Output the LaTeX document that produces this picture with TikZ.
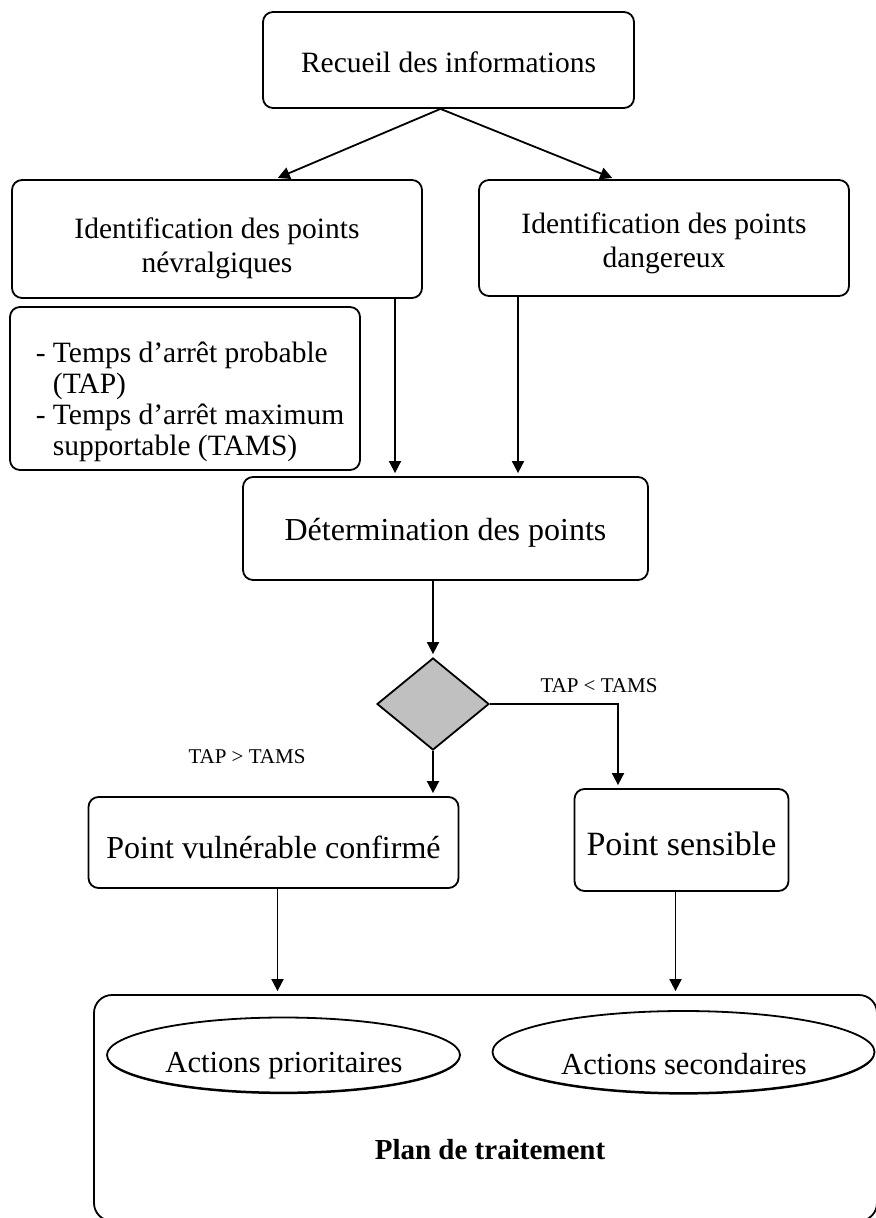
\documentclass[tikz,border=0pt]{standalone}
\usepackage{fontspec}
\setmainfont{Liberation Serif}
\usetikzlibrary{shapes.geometric,arrows.meta,shadows}
\definecolor{losange}{HTML}{C0C0C0}
\tikzset{
  box/.style={draw,line width=0.9pt,rounded corners=5pt,align=center,inner sep=0pt},
  oval/.style={draw,ellipse,line width=0.9pt,inner sep=0pt,fill=white,
    drop shadow={shadow xshift=0pt,shadow yshift=-0.8pt,opacity=1,fill=black}},
  flow/.style={line width=0.9pt,-{Triangle[length=6pt,width=6pt]},shorten >=1.5pt},
  cond/.style={font=\fontsize{10.5}{12}\selectfont}
}
\begin{document}
\begin{tikzpicture}[x=0.5pt,y=-0.5pt,font=\fontsize{14.75}{17}\selectfont]
\useasboundingbox (0,0) rectangle (876,1218);
\node[box,minimum width=185.5pt,minimum height=48pt] (recueil) at (448.5,60) {\rule{0pt}{13pt}Recueil des informations};
\node[box,minimum width=205pt,minimum height=59pt] (nevral) at (217,239) {\rule{0pt}{20pt}Identification des points\\névralgiques};
\node[box,minimum width=185pt,minimum height=58pt] (danger) at (664,238) {\rule{0pt}{16pt}Identification des points\\dangereux};
\node[box,minimum width=175pt,minimum height=81.5pt,align=left,font=\fontsize{14.75}{15.5}\selectfont] (tap) at (185,388.5)
  {\rule{0pt}{24pt}\hspace*{5pt}- Temps d’arrêt probable\\\hspace*{5pt}\hphantom{- }(TAP)\\\hspace*{5pt}- Temps d’arrêt maximum\\\hspace*{5pt}\hphantom{- }supportable (TAMS)};
\node[box,minimum width=202.5pt,minimum height=51.5pt,font=\fontsize{16}{19}\selectfont] (determ) at (445.5,528.5) {\rule{0pt}{15.5pt}Détermination des points};
\node[draw,diamond,fill=losange,line width=0.9pt,inner sep=0pt,minimum width=56pt,minimum height=46pt] (dia) at (433,704) {};
\node[box,minimum width=185pt,minimum height=45.5pt,font=\fontsize{16}{19}\selectfont] (pvc) at (273.5,842.5) {\rule{0pt}{16pt}Point vulnérable confirmé};
\node[box,minimum width=107pt,minimum height=51pt,font=\fontsize{17}{20}\selectfont] (sens) at (681.5,840) {\rule{0pt}{15.5pt}Point sensible};
\node[cond] (inf) at (599,686) {TAP < TAMS};
\node[cond] (sup) at (247,757) {TAP > TAMS};
\node[box,rounded corners=9pt,minimum width=391.5pt,minimum height=113pt] (plan) at (485.5,1108) {};
\node[oval,minimum width=176.5pt,minimum height=37.5pt] (prio) at (283.5,1055) {};
\node[oval,minimum width=191pt,minimum height=41pt] (second) at (683.5,1052) {};
\node[font=\fontsize{15.3}{18}\selectfont] (priotxt) at (284,1066) {Actions prioritaires};
\node[font=\fontsize{15.3}{18}\selectfont] (secondtxt) at (684,1064) {Actions secondaires};
\node[font=\fontsize{14.5}{17}\selectfont\bfseries] (plantxt) at (490,1150) {Plan de traitement};
\draw[flow] ([xshift=-4pt]recueil.south) -- ([xshift=29pt]nevral.north);
\draw[flow] ([xshift=-4pt]recueil.south) -- ([xshift=-24.5pt]danger.north);
\draw[flow] ([xshift=89pt]nevral.south) -- ([xshift=89pt]nevral.south |- determ.north);
\draw[flow] ([xshift=-73pt]danger.south) -- ([xshift=-73pt]danger.south |- determ.north);
\draw[flow] (dia.north |- determ.south) -- (dia.north);
\draw[flow] (dia.east) -| ([xshift=-31.75pt]sens.north);
\draw[flow] (dia.south) -- (dia.south |- pvc.north);
\draw[flow] ([xshift=2pt]pvc.south) -- ([xshift=2pt]pvc.south |- plan.north);
\draw[flow] ([xshift=-3pt]sens.south) -- ([xshift=-3pt]sens.south |- plan.north);
\end{tikzpicture}
\end{document}
